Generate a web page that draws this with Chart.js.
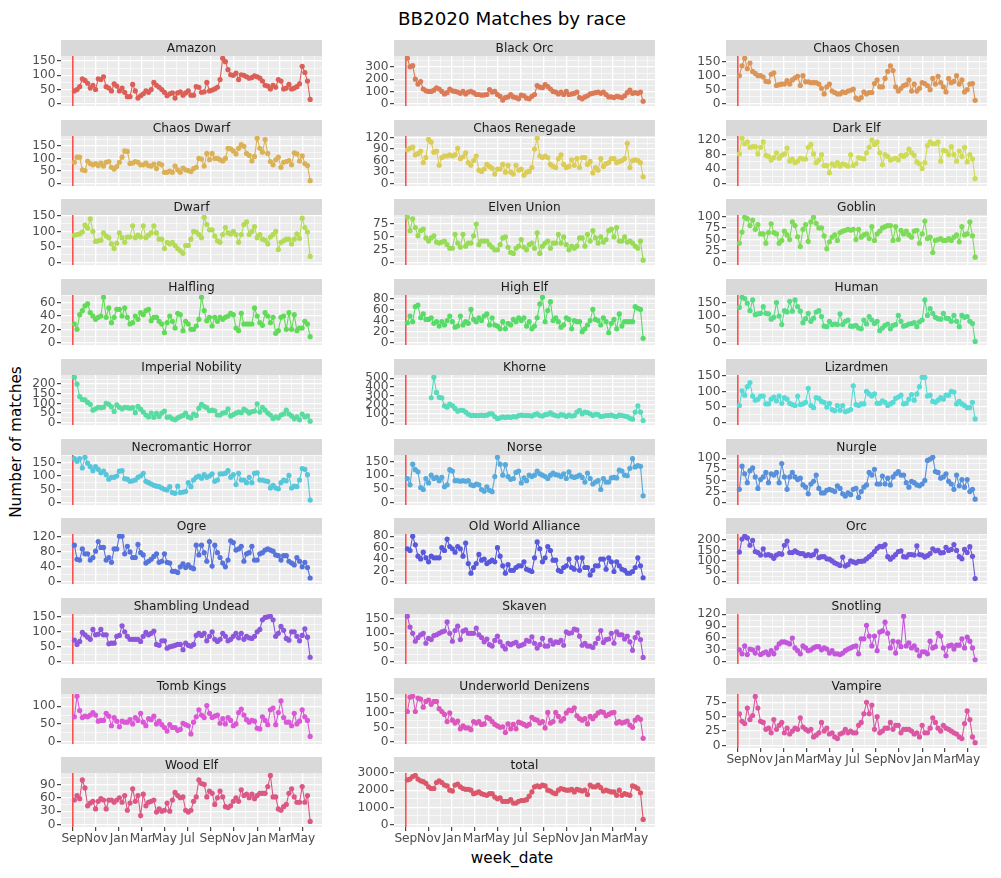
<!DOCTYPE html>
<html><head><meta charset="utf-8">
<script src="https://cdn.jsdelivr.net/npm/chart.js@4.4.1/dist/chart.umd.min.js"></script>
<style>
body{margin:0;background:#fff;width:1001px;height:878px;position:relative;overflow:hidden;font-family:"DejaVu Sans",sans-serif;}
canvas{position:absolute;}
.t{position:absolute;white-space:nowrap;color:#000;font-family:"DejaVu Sans",sans-serif;}
</style></head><body>
<div class="t" style="left:512px;top:18px;transform:translate(-50%,-50%);font-size:18.3px;">BB2020 Matches by race</div>
<div class="t" style="left:512px;top:858px;transform:translate(-50%,-50%);font-size:15.3px;">week_date</div>
<div class="t" style="left:16px;top:442px;transform:translate(-50%,-50%) rotate(-90deg);font-size:15.3px;">Number of matches</div>
<script>
const races = ['Amazon','Black Orc','Chaos Chosen','Chaos Dwarf','Chaos Renegade','Dark Elf','Dwarf','Elven Union','Goblin','Halfling','High Elf','Human','Imperial Nobility','Khorne','Lizardmen','Necromantic Horror','Norse','Nurgle','Ogre','Old World Alliance','Orc','Shambling Undead','Skaven','Snotling','Tomb Kings','Underworld Denizens','Vampire','Wood Elf','total'];
const yStep = [50,100,50,50,30,40,50,25,25,20,20,50,50,100,50,50,50,25,40,20,50,50,50,30,50,50,25,30,1000];
// x in days after 2020-09-01 (red line = BB2020 start)
const releaseDay = 0;
const firstWeekDay = 4;
const monthTickDays = [0,30,61,91,122,153,181,212,242,273,303,334,365,395,426,456,487,518,546,577,607,638];
const monthTickLabels = ['Sep','','Nov','','Jan','','Mar','','May','','Jul','','Sep','','Nov','','Jan','','Mar','','May',''];

const amazon = [45,50,60,88,82,72,55,65,50,88,85,95,60,55,45,70,62,45,55,40,25,25,68,45,20,28,35,45,40,50,75,65,58,50,40,28,35,38,20,38,42,30,38,45,30,30,60,58,40,42,75,45,48,52,58,85,160,148,120,102,100,108,85,102,100,95,90,92,98,95,90,80,65,62,52,65,58,85,80,52,55,68,52,55,60,70,132,110,80,15];
const blackOrc = [370,300,310,200,160,180,120,105,100,100,110,130,120,100,80,90,120,105,100,95,85,100,80,95,100,90,75,75,70,72,75,115,95,100,75,60,30,50,55,75,55,50,40,70,65,45,40,60,75,148,135,130,155,140,120,100,95,80,95,75,100,75,80,85,95,50,40,55,65,80,85,90,95,85,95,75,55,55,50,60,55,50,65,90,110,85,90,85,95,20];
const chaosChosen = [100,135,162,125,145,115,108,100,100,95,80,78,105,110,65,68,70,70,82,70,85,92,98,65,100,78,78,75,75,75,70,55,35,60,70,45,40,35,35,42,40,45,48,52,20,15,22,42,35,40,40,72,85,60,60,90,115,135,118,60,45,55,65,68,85,45,70,45,55,75,72,65,50,90,70,98,75,60,42,90,75,80,100,70,85,42,50,70,72,12];
const chaosDwarf = [85,105,105,55,52,90,80,75,80,72,82,70,85,88,65,58,68,85,105,130,128,80,82,88,85,75,75,82,72,70,78,60,80,75,45,45,50,45,70,55,45,62,55,52,48,60,65,100,98,70,120,95,120,100,100,95,90,100,140,138,130,118,140,155,148,120,112,90,108,180,140,125,175,120,88,75,95,105,65,85,88,92,75,122,118,90,110,80,72,12];
const chaosRenegade = [88,92,95,75,78,85,55,68,115,108,82,85,48,68,72,72,75,72,75,92,65,70,80,55,48,60,72,35,32,38,50,45,40,25,38,38,50,30,48,30,25,48,35,38,22,30,32,42,90,118,72,68,72,68,50,45,42,65,75,50,42,45,62,48,65,42,68,68,50,58,28,42,35,65,45,52,55,65,65,55,58,60,65,105,42,60,62,60,55,18];
const darkElf = [82,125,110,115,100,102,102,82,100,115,78,75,65,72,85,70,78,82,98,62,68,58,62,70,68,68,100,108,82,58,65,80,50,50,30,55,50,58,48,55,52,48,80,50,55,72,70,68,85,100,120,108,115,85,52,80,75,65,68,70,65,78,75,80,95,85,78,60,55,42,58,105,115,110,110,115,62,92,90,80,102,80,62,90,75,100,60,80,68,14];
const dwarf = [88,90,92,98,120,110,140,100,68,70,72,95,85,80,60,45,62,95,80,65,82,82,118,80,88,82,118,80,88,95,118,95,75,75,45,65,60,65,55,45,38,30,55,55,75,100,98,90,80,145,122,105,105,85,70,65,90,112,95,92,100,90,65,90,122,130,90,100,115,80,90,75,72,60,82,90,100,42,65,70,75,75,60,75,92,78,142,112,98,20];
const elvenUnion = [88,62,85,68,52,62,65,48,42,48,52,40,38,40,42,35,28,28,55,38,30,55,32,38,38,52,75,35,42,42,42,35,30,25,25,35,48,50,30,20,18,28,32,45,30,25,35,38,28,58,18,32,38,42,28,38,38,55,38,50,35,25,32,28,32,48,48,32,55,42,62,48,38,50,40,45,62,65,50,68,42,42,50,40,42,38,32,28,42,5];
const goblin = [42,66,98,95,80,92,72,82,62,62,42,65,84,65,62,42,48,68,60,50,88,80,56,35,72,82,46,88,98,85,75,75,58,30,45,55,60,48,65,68,70,72,70,72,50,72,55,60,62,52,78,48,62,68,75,78,80,80,48,78,50,70,62,68,60,55,68,70,42,62,90,52,55,22,48,50,52,48,48,52,48,55,60,45,78,60,62,88,58,12];
const halfling = [28,20,42,48,55,58,45,40,35,38,40,68,38,52,30,38,50,50,40,52,38,28,30,40,35,45,42,48,50,33,38,38,32,28,15,30,40,32,22,44,42,18,32,28,20,20,25,35,68,48,33,38,25,38,32,38,35,38,40,44,42,22,18,44,28,28,28,28,52,40,30,26,45,40,30,38,14,18,38,40,20,45,20,42,18,22,22,32,28,9];
const highElf = [36,48,38,65,68,45,52,42,42,45,35,38,30,38,32,40,48,38,28,30,48,32,38,35,60,42,38,45,40,48,52,32,45,32,30,25,38,25,35,32,42,38,45,40,45,30,38,25,30,45,70,82,38,58,74,40,45,38,28,32,45,42,25,40,38,38,20,25,32,40,60,42,40,32,45,38,18,35,42,25,52,30,38,38,38,38,65,62,60,8];
const human = [132,170,165,148,120,160,105,108,110,135,110,108,88,95,150,100,68,120,115,155,118,160,135,118,75,90,110,80,92,115,120,98,62,60,80,68,70,68,108,68,80,85,62,62,65,55,52,85,70,98,85,72,80,45,55,65,70,52,65,68,102,80,62,65,70,72,75,60,78,85,160,102,128,110,95,90,88,110,92,90,80,102,80,60,102,95,98,80,72,5];
const imperialNobility = [235,200,135,120,118,105,95,65,72,80,78,80,100,95,82,58,92,80,72,80,78,75,78,52,85,70,55,40,30,50,28,48,32,50,60,28,30,20,15,25,32,38,50,30,25,45,38,75,95,85,78,62,65,62,40,40,50,52,72,35,42,50,55,52,70,62,50,58,60,98,55,80,65,50,40,22,30,25,40,45,65,45,35,20,30,15,45,30,35,8];
const khorne = [null,null,null,null,null,null,null,null,null,280,510,340,285,280,190,175,210,190,160,130,140,140,120,95,80,82,80,80,82,80,85,100,100,70,45,55,65,60,65,60,70,65,80,85,80,80,80,75,90,100,80,75,90,95,110,90,80,75,90,85,70,85,75,80,120,140,100,120,115,100,80,95,90,70,75,80,80,85,75,70,85,80,75,70,50,40,120,190,120,25];
const lizardmen = [55,102,88,115,128,85,72,75,85,85,60,60,75,82,70,85,62,80,75,62,58,55,85,58,60,65,110,55,48,80,78,68,65,50,62,42,38,55,40,55,35,38,42,118,58,55,60,60,100,92,85,92,62,62,70,65,55,60,65,78,82,88,60,62,75,90,72,92,115,145,145,85,88,68,65,72,80,75,88,88,100,98,60,68,60,55,48,48,65,12];
const necromanticHorror = [165,155,165,130,170,148,135,120,135,125,112,118,105,88,95,95,100,118,120,90,88,80,82,85,95,100,110,80,75,70,65,62,60,55,50,48,60,38,35,62,38,40,42,75,60,85,95,100,92,105,95,100,108,80,85,108,108,110,120,95,105,68,110,85,85,75,95,75,110,112,85,85,82,80,55,65,55,52,75,85,82,102,55,62,60,85,128,125,105,10];
const norse = [88,65,140,120,112,55,48,88,72,100,88,92,80,92,58,65,120,115,80,80,78,80,78,80,65,62,68,65,48,42,58,45,40,95,165,140,100,138,95,85,88,110,115,72,90,80,100,95,100,115,105,100,95,88,100,108,102,100,95,105,88,112,95,92,95,100,92,75,108,88,68,75,80,48,88,75,75,90,92,90,118,115,100,98,125,160,130,135,132,25];
const nurgle = [30,82,65,45,72,78,58,32,52,58,68,45,65,62,68,45,88,58,30,58,68,58,52,55,40,35,20,42,48,62,32,22,22,28,30,28,25,38,32,20,15,22,18,30,32,12,25,35,40,68,62,75,42,42,60,42,55,40,58,65,70,62,62,45,35,48,45,40,38,42,50,95,98,102,70,68,55,58,65,48,42,30,62,38,52,35,52,25,30,8];
const ogre = [98,60,58,88,75,75,58,65,82,108,92,92,58,65,52,88,88,122,122,75,95,80,65,65,100,78,72,50,55,60,68,75,52,55,75,52,50,28,28,25,40,48,38,45,38,35,98,72,98,78,55,108,42,98,78,65,50,40,58,110,105,85,88,95,55,75,78,95,58,58,75,78,85,88,85,82,72,70,58,70,70,55,50,45,65,55,40,52,38,10];
const oldWorldAlliance = [58,55,80,65,45,40,52,42,35,45,42,42,42,60,55,75,62,58,52,62,58,45,68,32,15,25,32,48,38,40,32,35,38,35,60,45,28,15,30,20,20,25,28,28,35,22,20,18,42,70,58,35,42,62,55,38,38,20,18,25,28,40,25,22,42,20,42,25,25,12,20,28,28,40,40,22,42,35,18,35,28,22,20,15,15,18,25,42,28,7];
const orc = [142,205,218,210,175,198,145,140,128,158,128,130,125,112,128,135,132,175,195,140,140,148,140,135,135,125,130,125,130,148,115,120,120,110,108,100,90,85,78,118,75,82,100,95,90,98,98,100,110,120,130,145,160,170,168,178,120,108,118,130,145,148,120,118,130,130,128,172,130,128,118,125,135,158,148,150,138,140,165,150,155,178,150,120,110,155,140,168,122,15];
const shamblingUndead = [72,58,68,98,90,82,75,108,90,92,108,90,90,60,62,62,85,88,120,100,85,75,75,75,75,68,85,98,90,95,102,58,55,70,70,45,50,52,55,58,58,40,62,55,52,58,88,95,88,95,70,85,100,75,68,75,95,85,70,75,85,95,80,95,75,85,80,78,85,100,108,140,148,150,152,140,85,95,118,105,78,72,100,100,85,70,88,110,82,15];
const skaven = [160,122,100,72,85,95,100,65,82,78,92,95,100,105,108,140,100,72,110,125,78,108,112,100,100,100,118,95,85,70,80,60,55,75,90,70,55,45,65,60,65,68,55,58,62,75,72,88,65,48,60,82,55,55,75,62,70,68,75,58,105,100,102,115,112,90,58,65,55,55,50,65,82,110,68,78,80,100,65,105,95,95,80,90,70,40,85,102,78,15];
const snotling = [30,20,40,18,32,30,22,35,18,22,25,18,28,20,35,45,50,50,48,45,60,35,28,20,40,35,28,30,35,38,38,30,35,32,22,28,20,20,18,22,28,32,35,38,40,20,58,58,92,65,40,65,28,75,78,100,72,35,52,22,50,38,115,40,48,35,40,30,15,25,25,20,52,35,38,72,65,35,15,40,42,32,42,42,58,35,62,52,35,5];
const tombKings = [70,128,88,68,72,70,75,82,75,58,60,60,80,72,45,68,58,42,58,55,55,62,50,68,60,80,55,45,65,62,72,50,58,48,40,30,48,40,40,32,35,52,48,45,22,55,70,90,75,68,102,80,68,72,75,52,65,50,68,60,45,50,82,92,75,62,55,60,58,38,36,70,60,48,90,95,48,82,115,68,55,55,45,80,50,58,90,70,60,15];
const underworldDenizens = [105,155,158,105,152,148,120,140,145,130,140,140,115,105,95,70,100,75,65,72,45,55,48,48,42,70,65,70,60,62,85,80,70,60,55,50,52,32,62,45,60,45,68,65,60,55,60,85,78,75,65,70,48,102,65,70,102,88,72,80,100,110,108,118,90,80,75,80,62,88,80,90,100,105,102,90,95,100,102,65,70,65,68,72,58,50,75,85,78,12];
const vampire = [55,42,38,65,45,52,85,65,42,40,28,30,22,45,28,35,40,22,30,20,25,30,28,48,32,28,25,28,15,18,22,40,25,30,20,22,15,12,20,22,28,22,25,22,22,35,40,55,75,55,70,28,50,22,25,30,30,40,28,35,35,22,28,28,28,25,20,22,15,35,22,22,30,48,40,30,25,35,30,28,25,22,20,15,12,38,60,45,15,5];
const woodElf = [55,65,58,100,82,42,48,52,35,52,58,55,35,55,55,50,55,60,50,65,32,48,80,52,65,20,68,42,50,52,55,28,35,30,32,48,30,55,72,65,60,62,32,28,32,52,62,100,92,90,62,75,70,45,60,75,62,40,38,42,52,60,52,78,65,68,60,68,58,65,70,70,70,85,110,62,62,35,32,40,45,70,80,62,50,50,85,50,65,7];
const total = [2600,2650,2800,2860,2650,2550,2500,2400,2200,2100,2100,2450,2550,2450,2300,2250,2000,1950,2300,2350,2200,2100,2050,2050,2000,1800,1850,1900,1800,1750,1700,1800,1800,1600,1500,1550,1350,1350,1350,1450,1250,1250,1350,1400,1400,1450,1650,1900,2200,2250,2200,2300,2250,2000,1950,1850,1800,2000,2100,2050,2000,2000,2050,1900,2050,2000,1950,2000,1750,2300,2200,2200,2300,2150,1950,2000,1950,1900,1900,1700,2000,1700,1800,1750,1700,2250,2200,2100,1850,300];

const seriesList = [amazon,blackOrc,chaosChosen,chaosDwarf,chaosRenegade,darkElf,dwarf,elvenUnion,goblin,halfling,highElf,human,imperialNobility,khorne,lizardmen,necromanticHorror,norse,nurgle,ogre,oldWorldAlliance,orc,shamblingUndead,skaven,snotling,tombKings,underworldDenizens,vampire,woodElf,total];

// ---- layout / style ----
const colLeft = [61, 394, 726];
const panelW = 265, axisW = 58, stripH = 16, panelH = 54, rowPitch = 79.7, topY = 40, xAxisH = 20;
const FONT = '"DejaVu Sans", sans-serif';

function hls(h, l, s) {
  const m2 = l <= 0.5 ? l * (1 + s) : l + s - l * s;
  const m1 = 2 * l - m2;
  const v = hh => {
    hh = ((hh % 1) + 1) % 1;
    if (hh < 1/6) return m1 + (m2 - m1) * hh * 6;
    if (hh < 0.5) return m2;
    if (hh < 2/3) return m1 + (m2 - m1) * (2/3 - hh) * 6;
    return m1;
  };
  const c = x => Math.round(x * 255);
  return `rgb(${c(v(h + 1/3))},${c(v(h))},${c(v(h - 1/3))})`;
}

const nWeeks = Math.max(...seriesList.map(s => s.length));
const weekDays = [];
for (let i = 0; i < nWeeks; i++) weekDays.push(firstWeekDay + 7 * i);
const xLo = Math.min(releaseDay, weekDays[0]), xHi = weekDays[nWeeks - 1];
const xMin = xLo - 0.05 * (xHi - xLo), xMax = xHi + 0.05 * (xHi - xLo);

const bgPlugin = {
  id: 'bg',
  beforeDraw(chart, args, opts) {
    const {ctx, chartArea: a} = chart;
    ctx.save();
    ctx.fillStyle = '#EBEBEB';
    ctx.fillRect(a.left, a.top, a.right - a.left, a.bottom - a.top);
    ctx.fillStyle = '#D9D9D9';
    ctx.fillRect(a.left, a.top - stripH, a.right - a.left, stripH);
    ctx.fillStyle = '#1A1A1A';
    ctx.font = '12.2px ' + FONT;
    ctx.textAlign = 'center';
    ctx.textBaseline = 'middle';
    ctx.fillText(opts.label, (a.left + a.right) / 2, a.top - stripH / 2 + 0.5);
    ctx.restore();
  },
  beforeDatasetsDraw(chart) {
    const {ctx, chartArea: a} = chart;
    const x = chart.scales.x.getPixelForValue(releaseDay);
    ctx.save();
    ctx.strokeStyle = '#FF0000';
    ctx.lineWidth = 1.1;
    ctx.beginPath();
    ctx.moveTo(x, a.top);
    ctx.lineTo(x, a.bottom);
    ctx.stroke();
    ctx.restore();
  }
};

const zeroPad = s => { s.paddingTop = 0; s.paddingBottom = 0; s.paddingLeft = 0; s.paddingRight = 0; };

races.forEach((name, k) => {
  const r = Math.floor(k / 3), c = k % 3;
  const isBottom = k + 3 >= races.length;
  const vals = seriesList[k];
  const vmax = Math.max(...vals.filter(v => v != null));
  const yMin = 0 - 0.05 * vmax, yMax = vmax + 0.05 * vmax;
  const step = yStep[k], half = step / 2;
  const color = hls((k / races.length + 0.01) % 1, 0.6, 0.65);

  const cv = document.createElement('canvas');
  const W = axisW + panelW, H = stripH + panelH + (isBottom ? xAxisH : 0);
  cv.width = W; cv.height = H;
  cv.style.width = W + 'px'; cv.style.height = H + 'px';
  cv.style.left = (colLeft[c] - axisW) + 'px';
  cv.style.top = Math.round(topY + rowPitch * r) + 'px';
  document.body.appendChild(cv);

  const pts = [];
  vals.forEach((v, i) => { if (v != null) pts.push({x: weekDays[i], y: v}); });

  new Chart(cv, {
    type: 'line',
    data: {datasets: [{
      data: pts, borderColor: color, backgroundColor: color, borderWidth: 1.1,
      pointRadius: 2.6, pointBorderWidth: 0, pointBackgroundColor: color, tension: 0
    }]},
    options: {
      animation: false, responsive: false, devicePixelRatio: 1, events: [],
      layout: {padding: {top: stripH, left: 0, right: 0, bottom: 0}},
      plugins: {legend: {display: false}, tooltip: {enabled: false}, bg: {label: name}},
      scales: {
        x: {
          type: 'linear', min: xMin, max: xMax,
          afterBuildTicks: s => { s.ticks = monthTickDays.filter(v => v >= xMin && v <= xMax).map(v => ({value: v})); },
          afterFit: s => { s.height = isBottom ? xAxisH : 0; zeroPad(s); },
          border: {display: false},
          grid: {
            color: '#FFFFFF',
            lineWidth: ctx => (ctx.index % 2 === 0 ? 1.3 : 0.6),
            drawTicks: isBottom, tickLength: 4,
            tickColor: ctx => (ctx.index % 2 === 0 ? '#333333' : 'rgba(0,0,0,0)'),
            tickWidth: 1.1
          },
          ticks: {
            display: isBottom, autoSkip: false, maxRotation: 0, minRotation: 0, padding: 1,
            color: '#4D4D4D', font: {family: FONT, size: 12.2},
            callback: (v, i) => monthTickLabels[monthTickDays.indexOf(v)]
          }
        },
        y: {
          min: yMin, max: yMax,
          afterBuildTicks: s => {
            const t = [];
            for (let v = Math.ceil(yMin / half) * half; v <= yMax + 1e-9; v += half) t.push({value: v});
            s.ticks = t;
          },
          afterFit: s => { s.width = axisW; zeroPad(s); },
          border: {display: false},
          grid: {
            color: '#FFFFFF',
            lineWidth: ctx => (ctx.tick && Math.abs(ctx.tick.value % step) < 1e-6 ? 1.3 : 0.6),
            drawTicks: true, tickLength: 4,
            tickColor: ctx => (ctx.tick && Math.abs(ctx.tick.value % step) < 1e-6 ? '#333333' : 'rgba(0,0,0,0)'),
            tickWidth: 1.1
          },
          ticks: {
            autoSkip: false, padding: 1.5, color: '#4D4D4D', font: {family: FONT, size: 12.2},
            callback: v => (Math.abs(v % step) < 1e-6 ? String(Math.round(v)) : '')
          }
        }
      }
    },
    plugins: [bgPlugin]
  });
});
</script>
</body></html>
